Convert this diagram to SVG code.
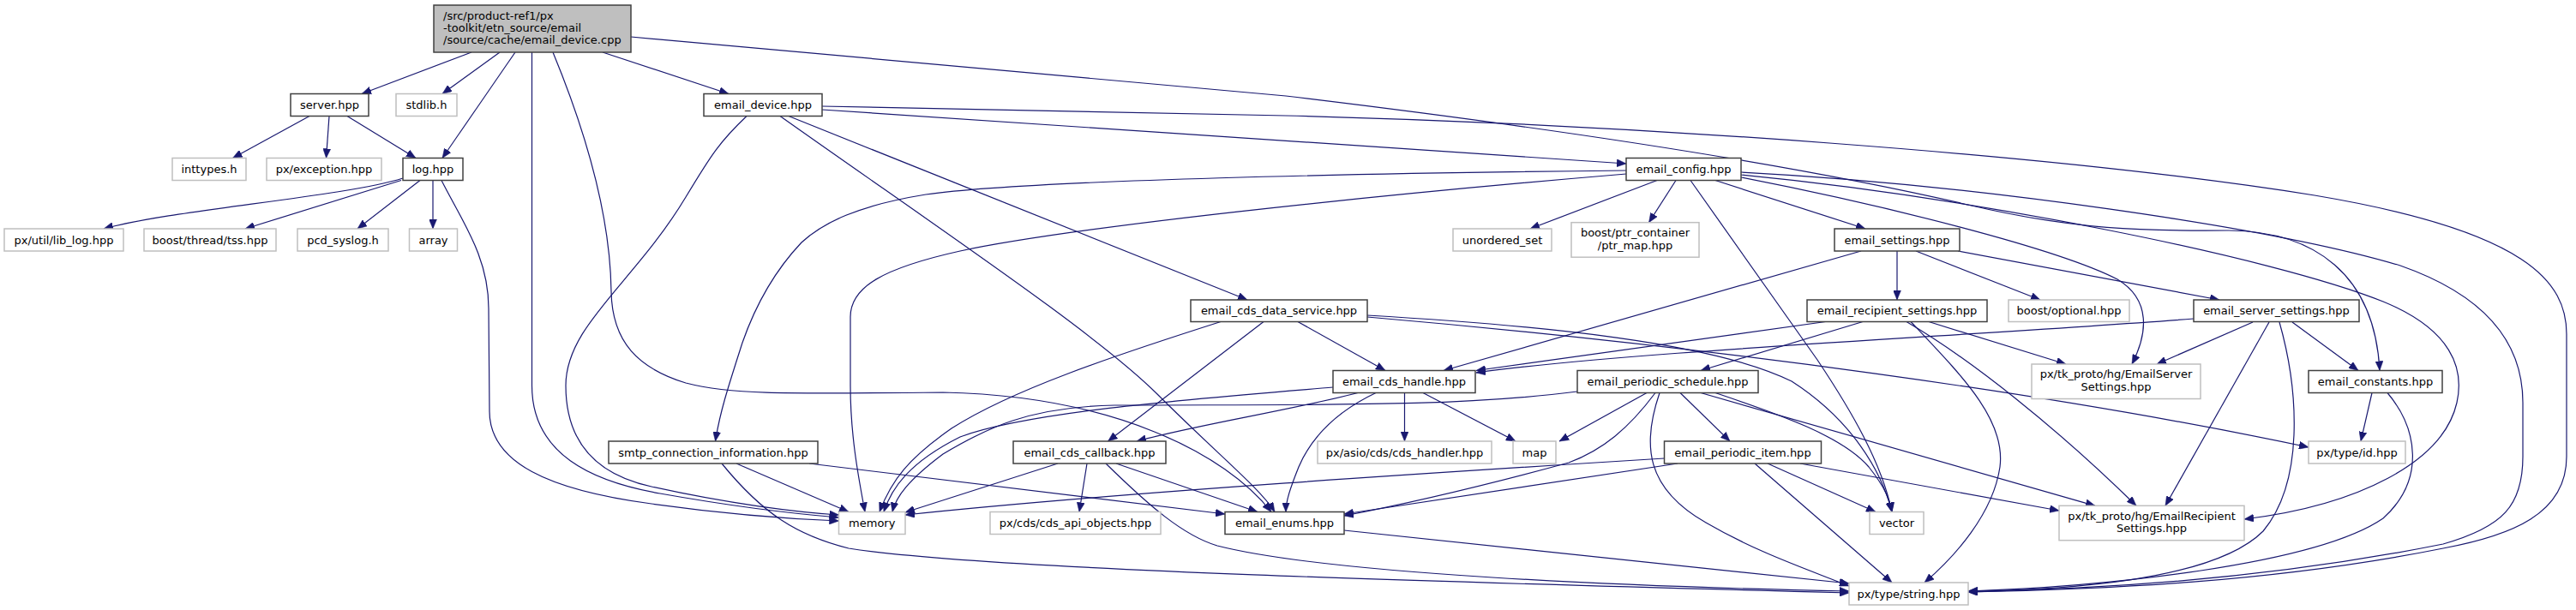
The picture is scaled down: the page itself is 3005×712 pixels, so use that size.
<svg xmlns="http://www.w3.org/2000/svg" width="3005" height="712" viewBox="0 0 3005 712">
<defs>
<style>
text{font-family:"DejaVu Sans",sans-serif;font-size:13px;fill:#000}
.n rect{fill:#fff;stroke:#404040;stroke-width:1.5}
.x rect{fill:#fff;stroke:#bfbfbf;stroke-width:1.5}
.m rect{fill:#bfbfbf;stroke:#404040;stroke-width:1.5}
.c text{text-anchor:middle}
#edges path{fill:none;stroke:#191970;stroke-width:1.2;marker-end:url(#ah)}
</style>
<marker id="ah" viewBox="0 0 11 9" refX="11" refY="4.5" markerWidth="11" markerHeight="9" markerUnits="userSpaceOnUse" orient="auto"><path d="M0,0 L11,4.5 L0,9 z" fill="#191970" stroke="#191970" stroke-width="0.5"/></marker>
</defs>
<rect width="3005" height="712" fill="#fff"/>
<g id="edges">
<path d="M550,61 L422,109.5"/>
<path d="M583,61 L516,109.5"/>
<path d="M601,61 L516,184.5"/>
<path d="M620.5,61 L620.5,450 C620.5,530 690,562 770,576 C860,592 930,600 978.5,604"/>
<path d="M703,61 L850,109.5"/>
<path d="M645,61 C690,170 712,260 713,340 C714,400 745,430 800,447 C850,460 900,460 1100,458 C1300,462 1430,530 1483,597.5"/>
<path d="M736,43 C1100,75 1300,95 1500,112 C1900,160 2150,205 2300,240 C2420,268 2500,270 2600,269 C2700,270 2770,320 2776,432.5"/>
<path d="M959,124 L1500,135 C1900,145 2400,180 2700,228 C2950,270 2994,330 2994,390 L2994,533 C2994,600 2930,625 2850,640 C2650,680 2450,688 2296,691"/>
<path d="M361,135.5 L271.5,184.5"/>
<path d="M384,135.5 L380.5,184.5"/>
<path d="M405,135.5 L485,184.5"/>
<path d="M470,208 C400,230 200,245 121,267"/>
<path d="M468,210.5 L286,267"/>
<path d="M490,210.5 L417,267"/>
<path d="M505,210.5 L505,267"/>
<path d="M515,210.5 C540,260 570,300 570,360 L571,480 C571,540 640,572 760,588 C860,602 930,606 978.5,608"/>
<path d="M959,128 L1897,191"/>
<path d="M871,135.5 C840,165 830,180 800,230 C740,330 660,380 660,450 C660,520 700,555 760,568 C850,588 930,598 978.5,601"/>
<path d="M910,135.5 C1100,270 1280,390 1350,460 C1420,530 1470,570 1487,597.5"/>
<path d="M920,135.5 L1455,350"/>
<path d="M1933,210.5 L1785,267"/>
<path d="M1955,210.5 L1923.5,259.7"/>
<path d="M2001,210.5 L2176,267"/>
<path d="M1972,210.5 L2120,420 C2160,480 2195,540 2207,597.5"/>
<path d="M1897,199 C1600,202 1200,210 1080,227 C1000,240 960,260 935,283 C900,320 880,360 866,400 C850,450 840,480 834.5,515"/>
<path d="M1897,203 C1600,228 1250,265 1120,293 C1030,313 992,335 992,370 L992,450 C992,510 1002,560 1009,597.5"/>
<path d="M2031,207 C2200,240 2400,290 2470,326 C2510,350 2505,390 2487,425"/>
<path d="M2031,204 C2300,230 2650,300 2780,352 C2860,385 2875,430 2866,470 C2850,540 2750,590 2618,606"/>
<path d="M2031,201 C2300,215 2650,265 2800,310 C2900,345 2943,400 2943,470 L2943,533 C2943,590 2920,615 2850,635 C2650,675 2450,688 2296,690"/>
<path d="M2213,293 L2213,350"/>
<path d="M2235,293 L2380,350"/>
<path d="M2284,293 L2589,350"/>
<path d="M2171,293 L1684,432.5"/>
<path d="M1514,375.5 L1616,432.5"/>
<path d="M1474,375.5 L1292.5,515"/>
<path d="M1424,375.5 C1300,415 1180,455 1110,500 C1060,535 1040,560 1026,597.5"/>
<path d="M1595,370 C2000,405 2400,460 2693,522"/>
<path d="M1595,368 C1800,380 2000,400 2090,445 C2160,490 2195,550 2207,597.5"/>
<path d="M2129.5,375.5 L1722,432.5"/>
<path d="M2173,375.5 L1984,432.5"/>
<path d="M2250,375.5 L2410,425"/>
<path d="M2224,375.5 C2300,420 2400,500 2492,590.3"/>
<path d="M2229,375.5 C2290,440 2340,490 2333,545 C2325,600 2280,650 2245,680"/>
<path d="M2559,372 C2300,392 1900,410 1722,435"/>
<path d="M2628,376 L2516,425"/>
<path d="M2647,376 L2526,590.3"/>
<path d="M2659,376 C2680,450 2690,560 2640,620 C2580,680 2400,688 2296,691"/>
<path d="M2674,376 L2751,432.5"/>
<path d="M2767,458.5 L2754,515"/>
<path d="M2785,458.5 C2820,500 2830,560 2780,605 C2700,660 2450,685 2296,690"/>
<path d="M1555,452 C1400,465 1200,480 1120,510 C1060,540 1040,570 1031,597.5"/>
<path d="M1605,458.5 C1560,480 1530,510 1515,545 C1505,570 1500,585 1500,597.5"/>
<path d="M1638.5,458.5 L1638.5,515"/>
<path d="M1660,458.5 L1768,515"/>
<path d="M1584,458.5 C1500,480 1400,495 1326,515"/>
<path d="M1840,457 C1700,475 1550,472 1300,473 C1200,475 1150,500 1100,530 C1060,560 1045,580 1041,597.5"/>
<path d="M1921,458.5 L1819,515"/>
<path d="M1931,458.5 C1900,500 1870,525 1830,540 C1720,570 1620,592 1568,602"/>
<path d="M1936,458.5 C1915,520 1920,570 1990,610 C2050,645 2110,665 2157,684"/>
<path d="M1960,458.5 L2018,515"/>
<path d="M1984,458.5 L2444,590.3"/>
<path d="M2001,458.5 C2080,485 2150,510 2180,545 C2200,570 2205,585 2207,597.5"/>
<path d="M1941.5,535 C1700,550 1300,575 1056,601"/>
<path d="M1957,541 L1568,600"/>
<path d="M2062,541 L2188,597.5"/>
<path d="M2047,541 L2207,680"/>
<path d="M2100,541 L2402,596"/>
<path d="M1234,541 L1056,598"/>
<path d="M1268,541 L1259,597.5"/>
<path d="M1302,541 L1467,597.5"/>
<path d="M1290,541 C1340,590 1380,625 1420,637 C1550,670 1900,685 2157,690"/>
<path d="M859,541 L990,597.5"/>
<path d="M944,541 L1429,600"/>
<path d="M842,541 C890,600 930,625 990,640 C1150,665 1700,680 2157,692"/>
<path d="M1568,619 L2157,681"/>
</g>
<g id="main" class="m"><rect x="506" y="6" width="230" height="55"/><text x="517" y="23">/src/product-ref1/px</text><text x="517" y="37">-toolkit/etn_source/email</text><text x="517" y="51">/source/cache/email_device.cpp</text></g>
<g id="server_hpp" class="n c"><rect x="339" y="109.5" width="91" height="26"/><text x="384.5" y="127">server.hpp</text></g>
<g id="stdlib_h" class="x c"><rect x="462" y="109.5" width="71" height="26"/><text x="497.5" y="127">stdlib.h</text></g>
<g id="email_device_hpp" class="n c"><rect x="821" y="109.5" width="138" height="26"/><text x="890" y="127">email_device.hpp</text></g>
<g id="inttypes_h" class="x c"><rect x="201" y="184.5" width="86" height="26"/><text x="244" y="202">inttypes.h</text></g>
<g id="exception_hpp" class="x c"><rect x="311" y="184.5" width="134" height="26"/><text x="378" y="202">px/exception.hpp</text></g>
<g id="log_hpp" class="n c"><rect x="470" y="184.5" width="70" height="26"/><text x="505" y="202">log.hpp</text></g>
<g id="email_config_hpp" class="n c"><rect x="1897" y="184.5" width="134" height="26"/><text x="1964" y="202">email_config.hpp</text></g>
<g id="lib_log_hpp" class="x c"><rect x="5" y="267" width="139" height="26"/><text x="74.5" y="284.5">px/util/lib_log.hpp</text></g>
<g id="tss_hpp" class="x c"><rect x="168" y="267" width="154" height="26"/><text x="245" y="284.5">boost/thread/tss.hpp</text></g>
<g id="pcd_syslog_h" class="x c"><rect x="347" y="267" width="106" height="26"/><text x="400" y="284.5">pcd_syslog.h</text></g>
<g id="array" class="x c"><rect x="477.5" y="267" width="56" height="26"/><text x="505.5" y="284.5">array</text></g>
<g id="unordered_set" class="x c"><rect x="1695" y="267" width="115" height="26"/><text x="1752.5" y="284.5">unordered_set</text></g>
<g id="ptr_map_hpp" class="x c"><rect x="1833" y="259.7" width="149" height="40.5"/><text x="1907.5" y="276">boost/ptr_container</text><text x="1907.5" y="291">/ptr_map.hpp</text></g>
<g id="email_settings_hpp" class="n c"><rect x="2140" y="267" width="146" height="26"/><text x="2213" y="284.5">email_settings.hpp</text></g>
<g id="email_cds_data_service_hpp" class="n c"><rect x="1389" y="350" width="206" height="25.5"/><text x="1492" y="367">email_cds_data_service.hpp</text></g>
<g id="email_recipient_settings_hpp" class="n c"><rect x="2108" y="350" width="210" height="25.5"/><text x="2213" y="367">email_recipient_settings.hpp</text></g>
<g id="optional_hpp" class="x c"><rect x="2343" y="350" width="141" height="25.5"/><text x="2413.5" y="367">boost/optional.hpp</text></g>
<g id="email_server_settings_hpp" class="n c"><rect x="2559" y="350" width="193" height="25.5"/><text x="2655.5" y="367">email_server_settings.hpp</text></g>
<g id="email_cds_handle_hpp" class="n c"><rect x="1555" y="432.5" width="166" height="26"/><text x="1638" y="450">email_cds_handle.hpp</text></g>
<g id="email_periodic_schedule_hpp" class="n c"><rect x="1840" y="432.5" width="211" height="26"/><text x="1945.5" y="450">email_periodic_schedule.hpp</text></g>
<g id="EmailServerSettings_hpp" class="x c"><rect x="2370" y="425" width="197" height="40.5"/><text x="2468.5" y="441">px/tk_proto/hg/EmailServer</text><text x="2468.5" y="456">Settings.hpp</text></g>
<g id="email_constants_hpp" class="n c"><rect x="2693" y="432.5" width="156" height="26"/><text x="2771" y="450">email_constants.hpp</text></g>
<g id="smtp_connection_information_hpp" class="n c"><rect x="710" y="515" width="244" height="26"/><text x="832" y="532.5">smtp_connection_information.hpp</text></g>
<g id="email_cds_callback_hpp" class="n c"><rect x="1182" y="515" width="178" height="26"/><text x="1271" y="532.5">email_cds_callback.hpp</text></g>
<g id="cds_handler_hpp" class="x c"><rect x="1537" y="515" width="203" height="26"/><text x="1638.5" y="532.5">px/asio/cds/cds_handler.hpp</text></g>
<g id="map" class="x c"><rect x="1765" y="515" width="50" height="26"/><text x="1790" y="532.5">map</text></g>
<g id="email_periodic_item_hpp" class="n c"><rect x="1941.5" y="515" width="183" height="26"/><text x="2033" y="532.5">email_periodic_item.hpp</text></g>
<g id="id_hpp" class="x c"><rect x="2693" y="515" width="113" height="26"/><text x="2749.5" y="532.5">px/type/id.hpp</text></g>
<g id="memory" class="x c"><rect x="978.5" y="597.5" width="77.5" height="26"/><text x="1017.25" y="615">memory</text></g>
<g id="cds_api_objects_hpp" class="x c"><rect x="1155" y="597.5" width="199" height="26"/><text x="1254.5" y="615">px/cds/cds_api_objects.hpp</text></g>
<g id="email_enums_hpp" class="n c"><rect x="1429" y="597.5" width="139" height="26"/><text x="1498.5" y="615">email_enums.hpp</text></g>
<g id="vector" class="x c"><rect x="2181" y="597.5" width="63" height="26"/><text x="2212.5" y="615">vector</text></g>
<g id="EmailRecipientSettings_hpp" class="x c"><rect x="2402" y="590.3" width="216" height="40.4"/><text x="2510" y="607">px/tk_proto/hg/EmailRecipient</text><text x="2510" y="621">Settings.hpp</text></g>
<g id="string_hpp" class="x c"><rect x="2157" y="680" width="139" height="26"/><text x="2226.5" y="697.5">px/type/string.hpp</text></g>
</svg>
